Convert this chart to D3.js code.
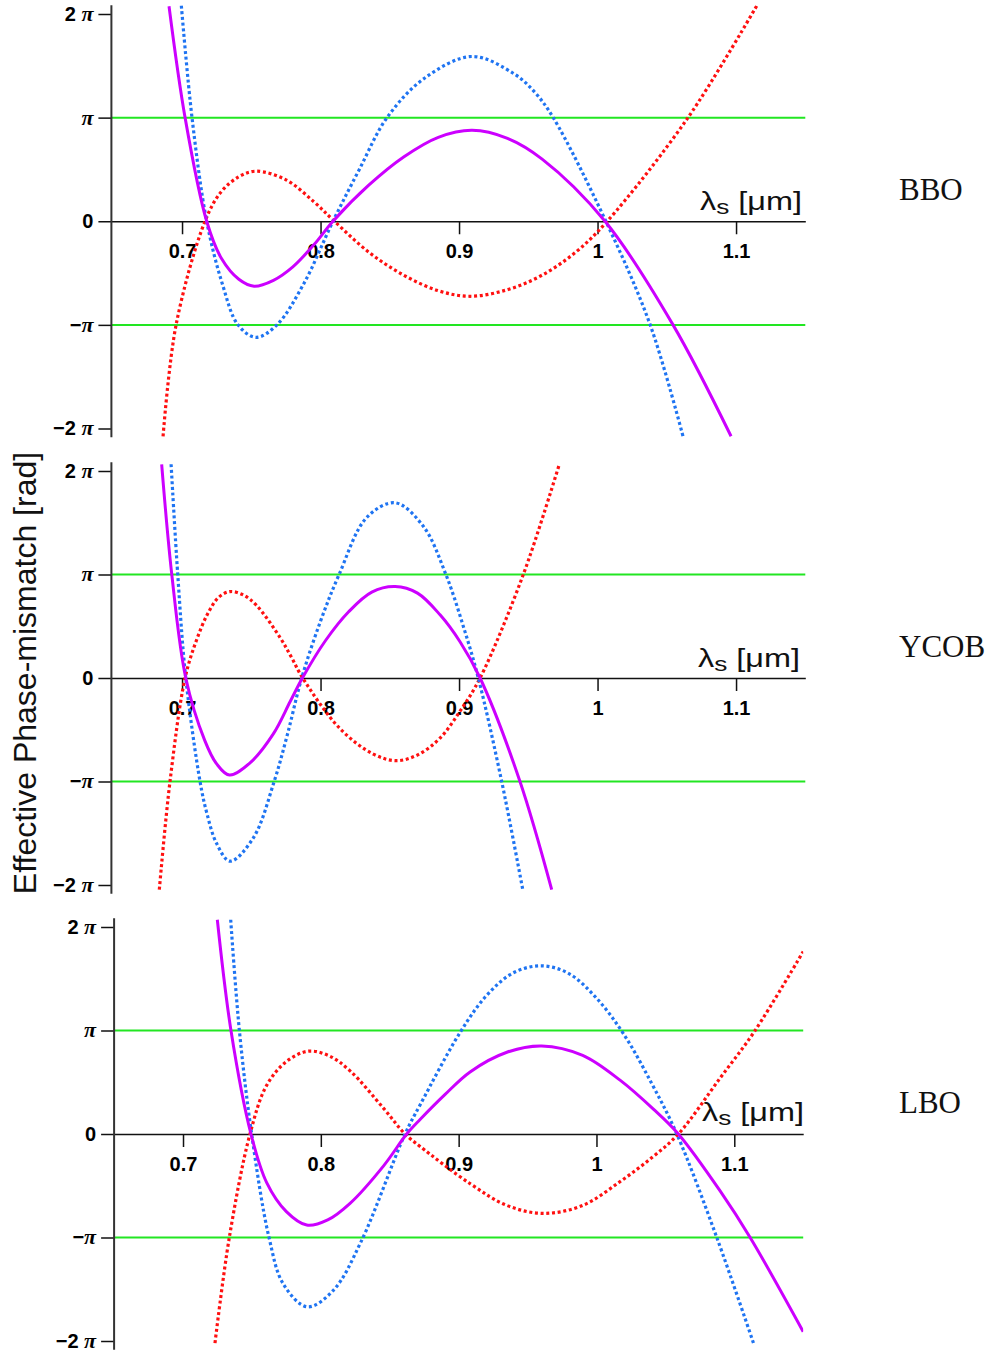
<!DOCTYPE html>
<html><head><meta charset="utf-8">
<script src="https://cdn.jsdelivr.net/npm/d3@7"></script>
<style>body{margin:0;background:#fff} svg{display:block}</style>
</head><body>
<svg id="c" width="993" height="1352"></svg>
<script>
// ---- data (wavelength in µm, phase mismatch in units of π) ----
const xTicks = [0.7, 0.8, 0.9, 1, 1.1];
const yTicks = [-2, -1, 0, 1, 2];
const yTickNum = ["−2 ", "−", "0", "", "2 "];
const yTickPi  = [true, true, false, true, true];
const materials = ["BBO", "YCOB", "LBO"];
const xLabel = ["λ", "s", " [μm]"];
const yTitle = "Effective Phase-mismatch [rad]";

const bboPurple = [[0.6906,2.075],[0.7022,1.0],[0.7178,0],[0.7285,-0.36],[0.741,-0.56],[0.752,-0.627],[0.766,-0.57],[0.78,-0.44],[0.795,-0.23],[0.809,0],[0.835,0.35],[0.86,0.62],[0.885,0.81],[0.9094,0.878],[0.935,0.80],[0.96,0.60],[1.0054,0],[1.0545,-1.0],[1.0964,-2.075]];
const bboBlue = [[0.6995,2.08],[0.7072,1.0],[0.7178,0],[0.729,-0.60],[0.7404,-1.0],[0.7534,-1.12],[0.7685,-1.0],[0.788,-0.60],[0.809,0],[0.828,0.50],[0.848,1.0],[0.875,1.38],[0.9094,1.59],[0.94,1.42],[0.955,1.24],[0.968,1.0],[1.006,0],[1.038,-1.0],[1.0617,-2.075]];
const bboRed = [[0.6863,-2.075],[0.6957,-1.0],[0.7166,0],[0.728,0.28],[0.741,0.43],[0.7534,0.483],[0.775,0.40],[0.795,0.19],[0.810,0],[0.835,-0.30],[0.86,-0.52],[0.885,-0.67],[0.908,-0.724],[0.935,-0.66],[0.96,-0.52],[0.985,-0.29],[1.007,0],[1.0653,1.0],[1.1152,2.085]];

const ycobPurple = [[0.6853,2.065],[0.6926,1.0],[0.7027,0],[0.7163,-0.60],[0.725,-0.83],[0.7342,-0.938],[0.7491,-0.82],[0.7659,-0.54],[0.778,-0.23],[0.7869,0],[0.8035,0.36],[0.8203,0.64],[0.837,0.83],[0.8538,0.883],[0.870,0.82],[0.8863,0.61],[0.9007,0.35],[0.9152,0],[0.944,-1.0],[0.9669,-2.045]];
const ycobBlue = [[0.6921,2.065],[0.6969,1.0],[0.7027,0],[0.713,-1.0],[0.7178,-1.30],[0.725,-1.60],[0.7347,-1.77],[0.7515,-1.544],[0.7665,-1.0],[0.776,-0.55],[0.7864,0],[0.80,0.55],[0.8134,1.0],[0.8333,1.55],[0.8538,1.693],[0.8742,1.466],[0.8905,1.0],[0.904,0.46],[0.9139,0],[0.9308,-1.0],[0.946,-2.045]];
const ycobRed = [[0.6836,-2.045],[0.6913,-1.0],[0.7022,0],[0.7103,0.36],[0.7185,0.62],[0.7265,0.78],[0.7347,0.835],[0.7445,0.80],[0.7539,0.70],[0.7708,0.39],[0.779,0.20],[0.7871,0],[0.8141,-0.49],[0.8381,-0.735],[0.855,-0.799],[0.8705,-0.74],[0.8863,-0.58],[0.9017,-0.30],[0.9152,0],[0.9464,1.0],[0.9724,2.065]];

const lboPurple = [[0.7249,2.07],[0.7348,1.0],[0.7493,0],[0.7607,-0.47],[0.775,-0.75],[0.7898,-0.88],[0.805,-0.83],[0.8212,-0.67],[0.8454,-0.31],[0.8623,0],[0.872,0.14],[0.89,0.38],[0.9083,0.60],[0.935,0.79],[0.9603,0.851],[0.99,0.76],[1.0171,0.52],[1.0413,0.24],[1.0594,0],[1.0897,-0.55],[1.1115,-1.0],[1.15,-1.91]];
const lboBlue = [[0.7346,2.07],[0.7409,1.0],[0.7498,0],[0.7624,-1.0],[0.7728,-1.45],[0.7902,-1.67],[0.8091,-1.51],[0.8292,-1.04],[0.8611,0],[0.872,0.28],[0.901,0.98],[0.9204,1.34],[0.94,1.56],[0.9603,1.625],[0.98,1.55],[1.0002,1.31],[1.02,0.96],[1.04,0.49],[1.0583,0],[1.0873,-1.0],[1.1139,-2.02]];
const lboRed = [[0.7232,-2.02],[0.7336,-1.0],[0.7486,0],[0.7607,0.47],[0.775,0.70],[0.7909,0.80],[0.806,0.755],[0.8212,0.61],[0.8454,0.25],[0.8611,0],[0.872,-0.12],[0.9083,-0.48],[0.935,-0.69],[0.9615,-0.767],[0.99,-0.69],[1.0171,-0.46],[1.04,-0.23],[1.0594,0],[1.0897,0.54],[1.1151,1.0],[1.15,1.763]];

// ---- layout ----
const panels = [
  {name: materials[0], purple: bboPurple, blue: bboBlue, red: bboRed,
   xd: [0.649, 1.15], xr: [111.4, 805.3], yt: 14, yb: 428.5, labX: 802, labDy: -11, nameY: 200},
  {name: materials[1], purple: ycobPurple, blue: ycobBlue, red: ycobRed,
   xd: [0.649, 1.15], xr: [111.4, 805.3], yt: 471, yb: 885, labX: 800, labDy: -11, nameY: 657},
  {name: materials[2], purple: lboPurple, blue: lboBlue, red: lboRed,
   xd: [0.65, 1.15], xr: [114.1, 803.2], yt: 927, yb: 1341, labX: 804, labDy: -13, nameY: 1113}
];

const svg = d3.select("#c");
const colors = {purple: "#cc00ff", blue: "#1f74f2", red: "#ff1010", green: "#22e622"};

panels.forEach((p, i) => {
  const x = d3.scaleLinear().domain(p.xd).range(p.xr);
  const y = d3.scaleLinear().domain([-2, 2]).range([p.yb, p.yt]);
  const g = svg.append("g");
  const ext = 2.085;

  g.append("clipPath").attr("id", "clip" + i).append("rect")
    .attr("x", p.xr[0]).attr("y", y(ext))
    .attr("width", p.xr[1] - p.xr[0]).attr("height", y(-ext) - y(ext));

  // green ±π lines
  [1, -1].forEach(v => {
    g.append("line").attr("x1", p.xr[0]).attr("x2", p.xr[1])
      .attr("y1", y(v)).attr("y2", y(v))
      .attr("stroke", colors.green).attr("stroke-width", 2);
  });

  // x axis at zero
  const xa = g.append("g").attr("transform", `translate(0,${y(0)})`)
    .call(d3.axisBottom(x).tickValues(xTicks).tickSize(13).tickSizeOuter(0).tickPadding(10)
      .tickFormat(d => String(d)));
  xa.select(".domain").attr("stroke", "#111").attr("stroke-width", 1.5);
  xa.selectAll(".tick line").attr("stroke", "#111").attr("stroke-width", 1.5);
  xa.selectAll(".tick text").attr("fill", "#000")
    .style("font", "bold 20px 'Liberation Sans', Arial, sans-serif");

  // y axis
  const ya = g.append("g").attr("transform", `translate(${p.xr[0]},0)`)
    .call(d3.axisLeft(y).tickValues(yTicks).tickSize(13).tickSizeOuter(0).tickPadding(5));
  ya.select(".domain").remove();
  ya.selectAll(".tick line").attr("stroke", "#111").attr("stroke-width", 1.5);
  ya.selectAll(".tick text").each(function(d) {
    const k = yTicks.indexOf(d);
    const t = d3.select(this).text("").attr("fill", "#000")
      .style("font", "bold 20px 'Liberation Sans', Arial, sans-serif");
    if (yTickNum[k]) t.append("tspan").text(yTickNum[k]);
    if (yTickPi[k]) t.append("tspan").attr("font-style", "italic")
      .style("font-family", "'Liberation Serif', 'DejaVu Serif', serif").attr("font-size", 22).text("π");
  });
  g.append("line").attr("x1", p.xr[0]).attr("x2", p.xr[0])
    .attr("y1", y(ext)).attr("y2", y(-ext))
    .attr("stroke", "#333").attr("stroke-width", 2);

  // curves
  const line = d3.line().x(d => x(d[0])).y(d => y(d[1])).curve(d3.curveCatmullRom.alpha(0.5));
  const cg = g.append("g").attr("clip-path", `url(#clip${i})`);
  cg.append("path").datum(p.red).attr("d", line).attr("fill", "none")
    .attr("stroke", colors.red).attr("stroke-width", 3.2).attr("stroke-dasharray", "3,2.7");
  cg.append("path").datum(p.blue).attr("d", line).attr("fill", "none")
    .attr("stroke", colors.blue).attr("stroke-width", 3.2).attr("stroke-dasharray", "3,2.7");
  cg.append("path").datum(p.purple).attr("d", line).attr("fill", "none")
    .attr("stroke", colors.purple).attr("stroke-width", 3);

  // x label
  const xl = g.append("text").attr("x", p.labX).attr("y", y(0) + p.labDy)
    .attr("text-anchor", "end").attr("fill", "#111")
    .style("font", "26px 'Liberation Sans', Arial, sans-serif")
    .attr("textLength", 102).attr("lengthAdjust", "spacingAndGlyphs");
  xl.append("tspan").text(xLabel[0]);
  xl.append("tspan").attr("font-size", 21).attr("dy", 4).text(xLabel[1]);
  xl.append("tspan").attr("dy", -4).text(xLabel[2]);

  // material name
  g.append("text").attr("x", 899).attr("y", p.nameY).attr("fill", "#111")
    .style("font", "31px 'Liberation Serif', 'Times New Roman', serif").text(p.name);
});

svg.append("text").attr("transform", "translate(36,673) rotate(-90)")
  .attr("text-anchor", "middle").attr("fill", "#111")
  .style("font", "32px 'Liberation Sans', Arial, sans-serif").text(yTitle);
</script>
</body></html>
